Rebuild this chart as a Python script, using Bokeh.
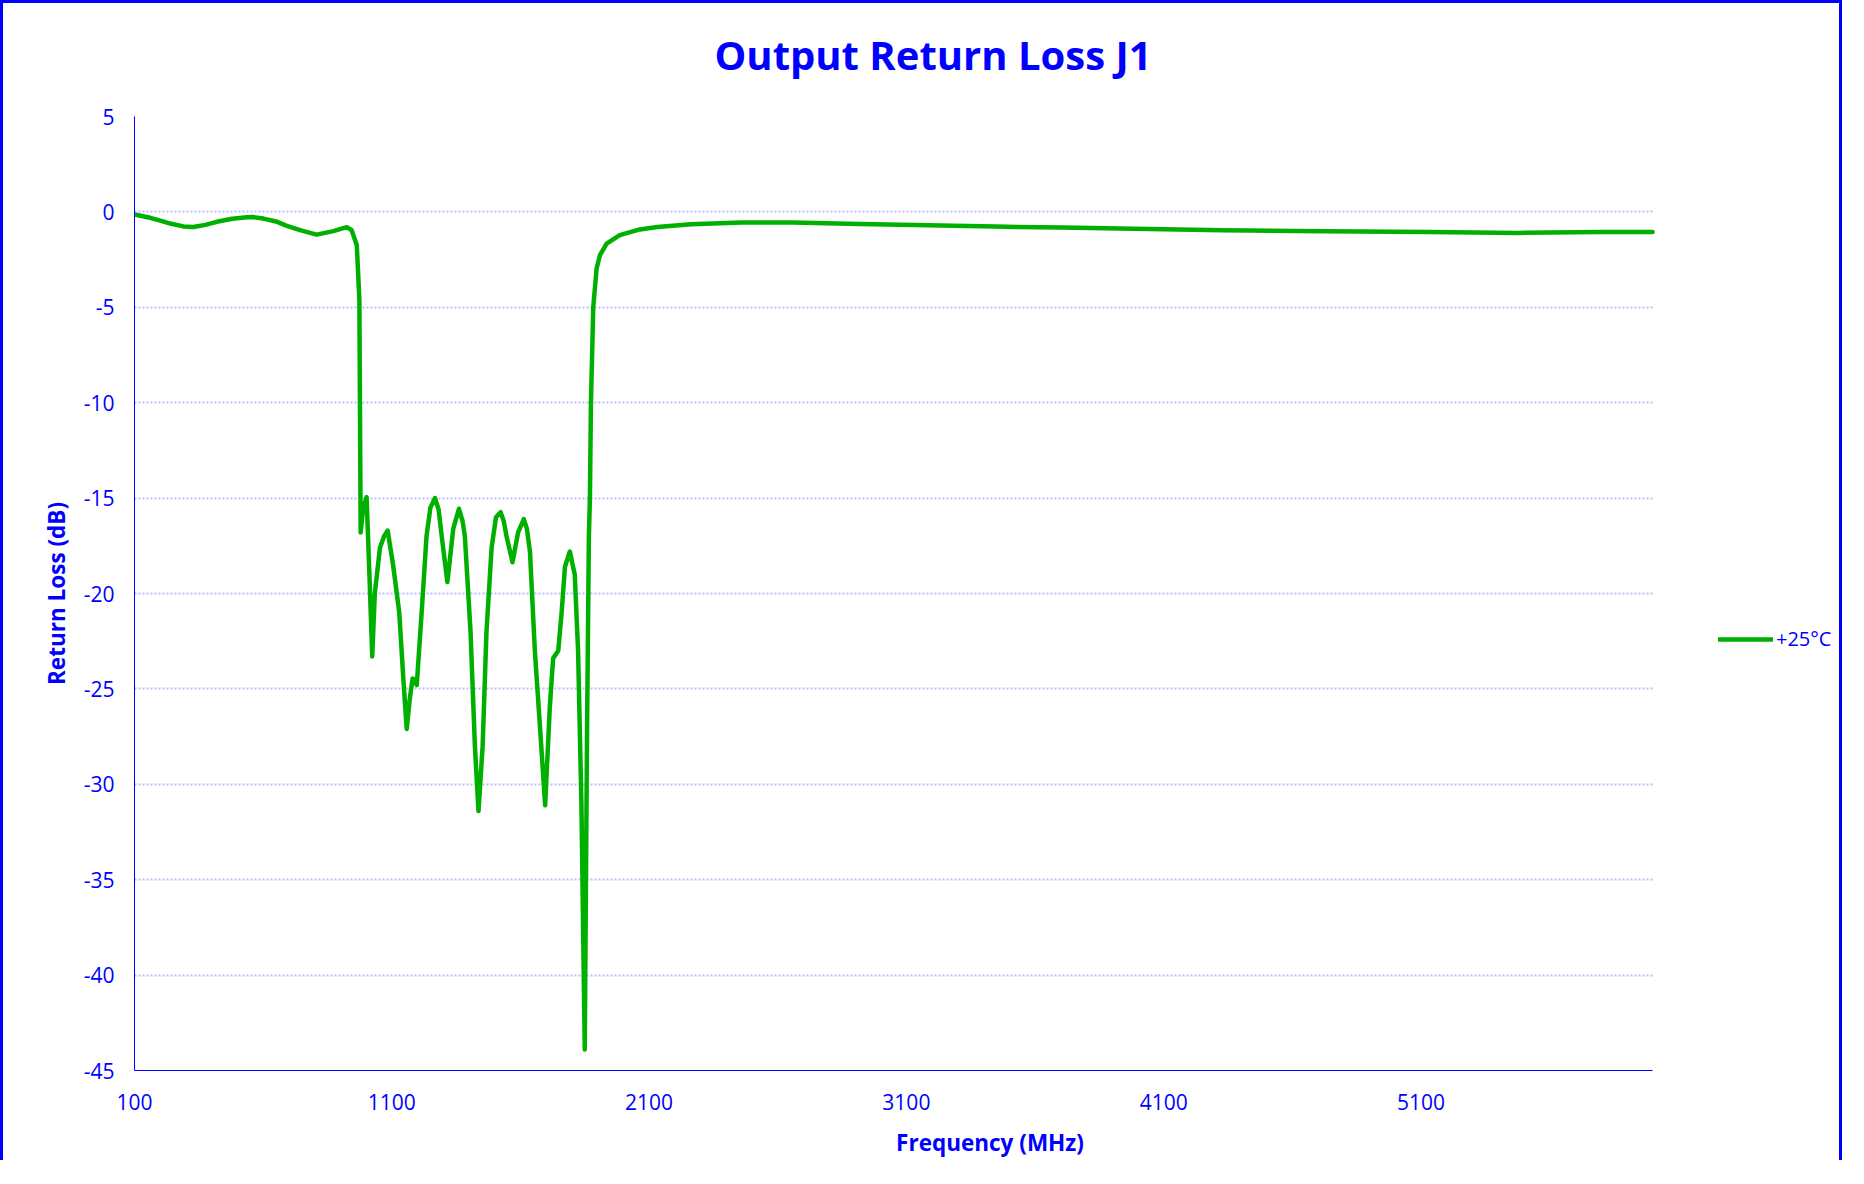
from bokeh.plotting import figure
from bokeh.models import FixedTicker, Range1d, Legend, LegendItem, Title
from bokeh.embed import file_html
from bokeh.resources import INLINE

# ---- data ----
freq_mhz = [100, 161, 200, 239, 290, 329, 375, 420, 480, 537, 560, 601, 650, 692, 750, 808, 873, 925, 944, 964, 974,
            979, 988, 1002, 1013, 1024, 1034, 1054, 1070, 1084, 1105, 1129, 1145,
            1158, 1170, 1181, 1190, 1197, 1216, 1235, 1250, 1268, 1282, 1294, 1316,
            1339, 1361, 1375, 1384, 1406, 1423, 1437, 1453, 1468, 1488, 1505, 1523,
            1535, 1546, 1569, 1591, 1613, 1625, 1637, 1656, 1676, 1696, 1714, 1727,
            1747, 1760, 1773, 1792, 1811, 1824, 1837, 1850, 1859, 1866, 1870, 1874,
            1883, 1896, 1909, 1935, 1986, 2064, 2132, 2263, 2460, 2657, 2919, 3182,
            3444, 3706, 3928, 4329, 4730, 5131, 5480, 5800, 6000]
rl_db = [-0.14, -0.31, -0.46, -0.61, -0.76, -0.79, -0.68, -0.52, -0.36, -0.28, -0.27, -0.35, -0.50, -0.73, -0.98, -1.19, -1.01, -0.80, -0.96, -1.75, -4.6,
         -16.8, -15.6, -14.95, -19.0, -23.3, -20.0, -17.6, -17.0, -16.7, -18.5, -21.0, -24.5,
         -27.1, -25.5, -24.45, -24.6, -24.8, -21.0, -17.0, -15.5, -15.0, -15.6, -17.0, -19.4,
         -16.6, -15.56, -16.2, -17.0, -22.0, -28.0, -31.4, -28.0, -22.0, -17.6, -16.0, -15.74,
         -16.2, -17.0, -18.36, -16.8, -16.1, -16.6, -17.8, -23.0, -27.0, -31.1, -26.0, -23.4,
         -23.0, -21.0, -18.6, -17.8, -19.0, -23.0, -31.0, -43.9, -27.0, -17.0, -15.0, -10.0,
         -5.0, -2.97, -2.27, -1.66, -1.22, -0.92, -0.79, -0.65, -0.56, -0.56, -0.63, -0.70,
         -0.77, -0.82, -0.87, -0.96, -1.01, -1.05, -1.10, -1.06, -1.05]
series_name = "+25°C"
x_ticks = [100, 1100, 2100, 3100, 4100, 5100]
y_ticks = [5, 0, -5, -10, -15, -20, -25, -30, -35, -40, -45]
x_min, x_max = 100, 6000
y_min, y_max = -45, 5
title_text = "Output Return Loss J1"
x_label = "Frequency (MHz)"
y_label = "Return Loss (dB)"

BLUE = "#0000ff"
GREEN = "#00b000"
FONT = "Open Sans"

# the frame is widened to the right so the legend can sit beside the data area;
# axis and grid are bounded to the data extent
p = figure(width=1842, height=1160, output_backend="svg", toolbar_location=None,
           x_range=Range1d(x_min, 6750), y_range=Range1d(y_min, y_max),
           min_border_left=131, min_border_right=0, min_border_top=113, min_border_bottom=93)
p.styles = {"border-top": "3px solid #0000ff", "border-left": "3px solid #0000ff",
            "border-right": "3px solid #0000ff"}

p.title.text = title_text
p.title.align = "left"
p.title.offset = 580
p.title.vertical_align = "bottom"
p.title.text_font = FONT
p.title.text_font_size = "40px"
p.title.text_font_style = "bold"
p.title.text_color = BLUE
p.title.standoff = 0

# blank spacer between the title and the plot area
p.add_layout(Title(text=" ", text_font_size="1px", text_color="white", standoff=32), "above")

p.outline_line_color = None
p.background_fill_color = "white"
p.border_fill_color = "white"

r = p.line(freq_mhz, rl_db, line_color=GREEN, line_width=4.5, line_join="round", line_cap="round")

# axes
for ax in (p.xaxis[0], p.yaxis[0]):
    ax.axis_line_color = BLUE
    ax.axis_line_width = 1
    ax.major_tick_line_color = None
    ax.minor_tick_line_color = None
    ax.major_tick_out = 0
    ax.major_tick_in = 0
    ax.minor_tick_out = 0
    ax.minor_tick_in = 0
    ax.major_label_text_color = BLUE
    ax.major_label_text_font = FONT
    ax.major_label_text_font_size = "21px"
    ax.axis_label_text_color = BLUE
    ax.axis_label_text_font = FONT
    ax.axis_label_text_font_size = "22.5px"
    ax.axis_label_text_font_style = "bold"

p.xaxis.bounds = (x_min, x_max)
p.xaxis.ticker = FixedTicker(ticks=x_ticks)
p.yaxis.ticker = FixedTicker(ticks=y_ticks)
p.xaxis.major_label_overrides = {t: str(t) for t in x_ticks}
p.yaxis.major_label_overrides = {t: str(t) for t in y_ticks}
p.xaxis.axis_label = x_label
p.yaxis.axis_label = y_label
p.xaxis.major_label_standoff = 23
p.yaxis.major_label_standoff = 20
p.xaxis.axis_label_standoff = 14
p.yaxis.axis_label_standoff = 9

p.xgrid.grid_line_color = None
p.ygrid.grid_line_color = "#bcbcff"
p.ygrid.grid_line_width = 2
p.ygrid.grid_line_dash = "2 2"
p.ygrid.cross_bounds = (x_min, x_max)

legend = Legend(items=[LegendItem(label=series_name, renderers=[r])],
                location=(1584, 418), glyph_width=55, glyph_height=20, label_height=20,
                label_standoff=3, padding=10, border_line_color=None,
                background_fill_alpha=0.0, label_text_color=BLUE,
                label_text_font=FONT, label_text_font_size="20px")
p.add_layout(legend, "center")

open("out.html", "w").write(file_html(p, INLINE))
